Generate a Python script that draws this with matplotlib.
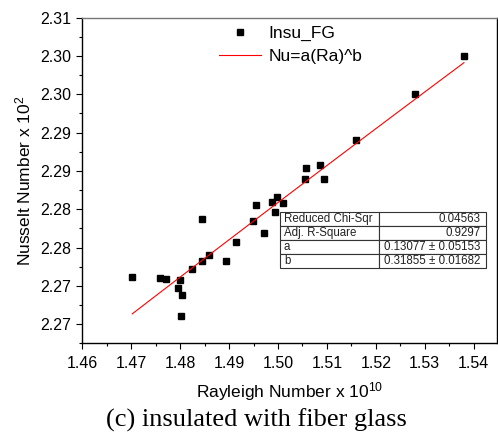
import matplotlib
matplotlib.use("Agg")
import matplotlib.pyplot as plt
import matplotlib.ticker
import numpy as np
from matplotlib.table import Table

plt.rcParams['font.family'] = ['Liberation Sans', 'DejaVu Sans']
plt.rcParams['mathtext.fontset'] = 'custom'
plt.rcParams['mathtext.rm'] = 'Liberation Sans'
plt.rcParams['mathtext.default'] = 'regular'

# Rayleigh number (x 10^10) and Nusselt number (x 10^2)
rayleigh = [1.4702, 1.4758, 1.4772, 1.4799, 1.4795, 1.4803, 1.4801, 1.4825,
            1.4845, 1.4845, 1.4859, 1.4893, 1.4914, 1.4948, 1.4955, 1.4971,
            1.4988, 1.4997, 1.5010, 1.4994, 1.5056, 1.5057, 1.5086, 1.5095,
            1.5160, 1.5281, 1.5380]
nusselt = [2.2712, 2.2710, 2.2709, 2.2707, 2.2697, 2.2688, 2.2660, 2.2722,
           2.2787, 2.2732, 2.2740, 2.2733, 2.2757, 2.2785, 2.2805, 2.2769,
           2.2809, 2.2816, 2.2808, 2.2796, 2.2839, 2.2854, 2.2858, 2.2839,
           2.2890, 2.2951, 2.3000]

# fit parameters Nu = a (Ra)^b
fit_a = 0.13077
fit_b = 0.31855

y_ticks = [2.265, 2.270, 2.275, 2.280, 2.285, 2.290, 2.295, 2.300, 2.305]
y_tick_labels = ['2.27', '2.27', '2.28', '2.28', '2.29', '2.29', '2.30', '2.30', '2.31']

table_names = ['Reduced Chi-Sqr', 'Adj. R-Square', 'a', 'b']
table_values = ['0.04563', '0.9297', '0.13077 \u00b1 0.05153', '0.31855 \u00b1 0.01682']


# Fit statistics box drawn inside the axes
def addFitTable(ax):
    tbl = Table(ax, bbox=[0.477, 0.230, 0.498, 0.174])
    for row in range(len(table_names)):
        c0 = tbl.add_cell(row, 0, width=0.48, height=1, text=table_names[row], loc='left')
        c1 = tbl.add_cell(row, 1, width=0.52, height=1, text=table_values[row], loc='right')
        c0.PAD = 0.04
        c1.PAD = 0.055
        for c in (c0, c1):
            c.set_edgecolor('#333333')
            c.set_linewidth(0.8)
            c.get_text().set_fontsize(8.3)
            c.get_text().set_color('#222222')
    tbl.auto_set_font_size(False)
    ax.add_table(tbl)


fig = plt.figure(figsize=(4.98, 4.32), dpi=100)
ax = fig.add_axes((0.1653, 0.2053, 0.8321, 0.7537))

ax.plot(rayleigh, nusselt, linestyle='none', marker='s', markersize=5,
        color='black', label='Insu_FG')

ra_fit = np.linspace(min(rayleigh), max(rayleigh), 100)
nu_fit = fit_a * (ra_fit * 1e10) ** fit_b / 100
ax.plot(ra_fit, nu_fit, color='red', linewidth=0.8, label='Nu=a(Ra)^b')

ax.set_xlim(1.46, 1.5447)
ax.set_ylim(2.2625, 2.305)

ax.xaxis.set_major_locator(matplotlib.ticker.MultipleLocator(0.01))
ax.xaxis.set_minor_locator(matplotlib.ticker.AutoMinorLocator(2))
ax.xaxis.set_major_formatter(matplotlib.ticker.StrMethodFormatter("{x:.2f}"))
ax.set_yticks(y_ticks)
ax.set_yticklabels(y_tick_labels)
ax.yaxis.set_minor_locator(matplotlib.ticker.AutoMinorLocator(2))

ax.tick_params(which='major', direction='out', length=4.3, width=0.8, labelsize=11.5, pad=3.5)
ax.tick_params(which='minor', direction='out', length=2, width=0.8)
ax.tick_params(axis='x', which='major', pad=4.5)

for side in ['left', 'bottom', 'right']:
    ax.spines[side].set_linewidth(1.0)
    ax.spines[side].set_color('black')
ax.spines['top'].set_color('#777777')
ax.spines['top'].set_linewidth(1.0)

ax.set_xlabel('Rayleigh Number x 10$^{10}$', fontsize=12.5, labelpad=7)
ax.set_ylabel('Nusselt Number x 10$^{2}$', fontsize=12.5, labelpad=5)

ax.legend(loc='upper left', bbox_to_anchor=(0.33, 0.975), frameon=False,
          fontsize=12.5, handlelength=2.4, handletextpad=0.45,
          borderpad=0, borderaxespad=0, labelspacing=0.47)

addFitTable(ax)

fig.text(0.5155, 0.0123, '(c) insulated with fiber glass', ha='center', va='baseline',
         fontsize=19, family='Liberation Serif')

fig.savefig('out.png', dpi=100)
